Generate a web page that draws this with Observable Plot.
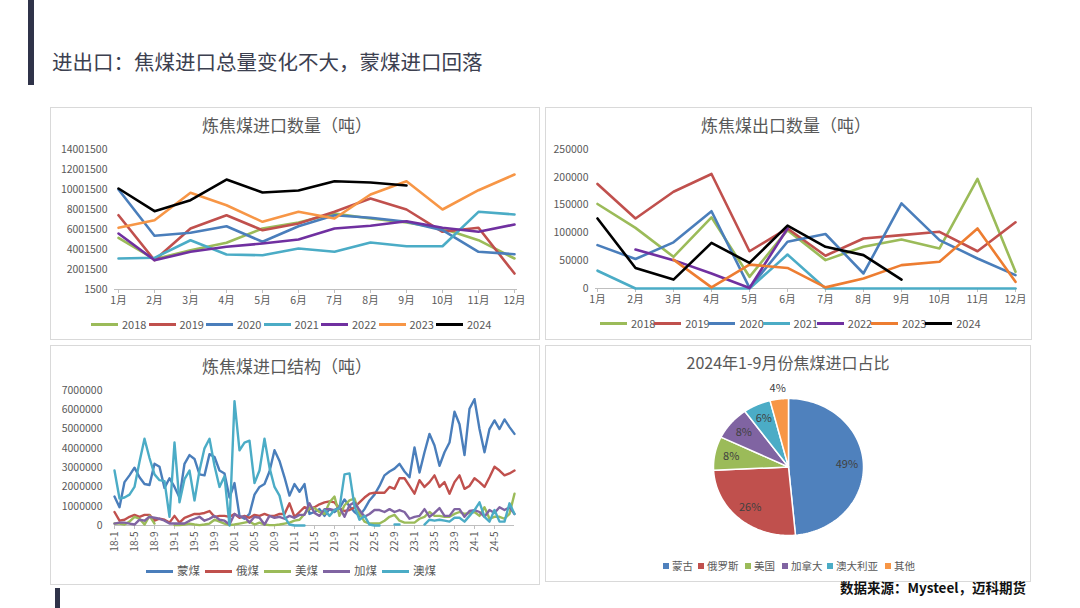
<!DOCTYPE html>
<html><head><meta charset="utf-8">
<script src="https://cdn.jsdelivr.net/npm/d3@7"></script>
<script src="https://cdn.jsdelivr.net/npm/@observablehq/plot@0.6"></script>
<style>
body{margin:0;background:#fff;}
#root{position:relative;width:1080px;height:608px;overflow:hidden;font-family:"Noto Sans CJK SC","Noto Sans",sans-serif;background:#fff;}
.panel{position:absolute;border:1px solid #d9d9d9;background:#fff;box-sizing:border-box;}
.ptitle{position:absolute;font-size:17px;color:#595959;white-space:nowrap;transform:translateX(-50%);line-height:1;}
.leg{position:absolute;display:flex;align-items:center;font-size:11px;color:#595959;white-space:nowrap;line-height:1;height:12px;}
svg{position:absolute;}
</style></head>
<body><div id="root"></div>
<script>
// ---------- data ----------
const months = ["1月","2月","3月","4月","5月","6月","7月","8月","9月","10月","11月","12月"];
const years = ["2018","2019","2020","2021","2022","2023","2024"];

// 炼焦煤进口数量（吨）
const imp2018 = [5170000,3030000,3930000,4670000,6100000,6700000,7600000,7100000,6700000,6100000,4930000,3100000];
const imp2019 = [7430000,2930000,6100000,7430000,5930000,6600000,7770000,9100000,8000000,5770000,6170000,1600000];
const imp2020 = [10000000,5370000,5670000,6330000,4770000,6330000,7430000,7170000,6770000,5930000,3770000,3530000];
const imp2021 = [3100000,3170000,4930000,3500000,3430000,4100000,3770000,4700000,4330000,4330000,7770000,7500000];
const imp2022 = [5600000,2930000,3770000,4270000,4600000,5000000,6100000,6370000,6830000,6170000,5770000,6500000];
const imp2023 = [6170000,6930000,9670000,8430000,6770000,7770000,7100000,9500000,10830000,8000000,9930000,11500000];
const imp2024 = [10100000,7830000,8930000,11000000,9700000,9900000,10830000,10700000,10400000];
const impTicks = [1500,2001500,4001500,6001500,8001500,10001500,12001500,14001500];

// 炼焦煤出口数量（吨）
const exp2018 = [152000,109000,57000,128000,21000,105000,51000,75000,88000,72000,197000,30000];
const exp2019 = [188000,126000,174000,206000,67000,108000,59000,90000,96000,102000,67000,119000];
const exp2020 = [78000,53000,83000,139000,1000,84000,98000,27000,153000,87000,54000,24000];
const exp2021 = [32000,0,0,0,0,61000,0,0,0,0,0,0];
const exp2022 = [null,70000,51000,27000,1000,108000,null,null,null,null,null,null];
const exp2023 = [null,null,52000,2000,43000,37000,2000,18000,42000,48000,108000,12000];
const exp2024 = [126000,37000,16000,82000,46000,113000,75000,60000,16000];
const expTicks = [0,50000,100000,150000,200000,250000];

// 炼焦煤进口结构（吨）, 2018-1 .. 2024-9
const structYears = ["18","19","20","21","22","23","24"];
const structMonths = structYears.flatMap(y => ["1","2","3","4","5","6","7","8","9","10","11","12"].map(m => y + "-" + m)).slice(0, 81);
const structTickLabels = ["18-1","18-5","18-9","19-1","19-5","19-9","20-1","20-5","20-9","21-1","21-5","21-9","22-1","22-5","22-9","23-1","23-5","23-9","24-1","24-5"];
const structNames = ["蒙煤","俄煤","美煤","加煤","澳煤"];
const mongolia = [
 1.5e6,0.95e6,2.25e6,2.6e6,3.0e6,2.5e6,2.15e6,2.1e6,3.2e6,3.05e6,1.95e6,2.45e6,
 2.0e6,1.45e6,3.2e6,3.65e6,3.45e6,2.65e6,2.6e6,3.7e6,3.55e6,2.85e6,2.7e6,1.45e6,
 2.2e6,0.5e6,0.35e6,0.6e6,1.6e6,2.0e6,2.15e6,2.8e6,3.9e6,3.35e6,2.5e6,1.55e6,
 2.15e6,1.75e6,2.15e6,0.6e6,0.7e6,0.85e6,0.5e6,0.85e6,0.7e6,0.9e6,1.35e6,1.0e6,
 0.7e6,0.5e6,0.85e6,1.3e6,1.6e6,2.05e6,2.6e6,2.8e6,2.95e6,3.2e6,2.8e6,2.5e6,
 4.05e6,2.75e6,3.8e6,4.75e6,4.15e6,3.1e6,3.8e6,4.3e6,5.9e6,5.25e6,3.65e6,6.05e6,
 6.55e6,5.0e6,3.8e6,5.0e6,5.45e6,5.0e6,5.5e6,5.1e6,4.75e6];
const russia = [
 0.7e6,0.25e6,0.3e6,0.45e6,0.55e6,0.45e6,0.55e6,0.55e6,0.25e6,0.35e6,0.3e6,0.15e6,
 0.5e6,0.15e6,0.4e6,0.5e6,0.6e6,0.6e6,0.65e6,0.75e6,0.45e6,0.5e6,0.5e6,0.45e6,
 0.6e6,0.4e6,0.5e6,0.4e6,0.55e6,0.5e6,0.6e6,0.5e6,0.5e6,0.6e6,0.6e6,1.15e6,
 0.45e6,0.7e6,0.95e6,0.85e6,0.95e6,1.1e6,1.2e6,1.25e6,1.2e6,0.9e6,0.75e6,0.8e6,
 0.95e6,1.2e6,1.45e6,1.65e6,1.7e6,1.7e6,1.7e6,2.0e6,1.9e6,2.45e6,2.45e6,2.05e6,
 1.65e6,2.35e6,2.0e6,2.25e6,2.6e6,2.0e6,2.25e6,1.65e6,2.25e6,2.6e6,1.9e6,2.05e6,
 2.45e6,2.25e6,2.0e6,2.5e6,3.05e6,2.85e6,2.6e6,2.7e6,2.85e6];
const usa = [
 0.1e6,0.1e6,0.05e6,0.2e6,0.45e6,0.35e6,0.05e6,0.5e6,0.1e6,null,null,null,
 0.02e6,0.02e6,0.05e6,0.1e6,0.05e6,0.02e6,0.05e6,0.1e6,0.3e6,0.2e6,0.1e6,0.02e6,
 0.05e6,0.1e6,0.15e6,0.2e6,0.05e6,0.15e6,0.05e6,0.02e6,0.02e6,0.05e6,0.1e6,0.15e6,
 0.25e6,0.3e6,0.6e6,0.9e6,0.9e6,0.7e6,0.6e6,1.2e6,1.5e6,0.5e6,1.05e6,1.3e6,
 1.4e6,0.6e6,0.2e6,0.1e6,0.1e6,0.1e6,0.25e6,0.45e6,0.55e6,0.25e6,0.15e6,0.15e6,
 0.15e6,0.35e6,0.45e6,0.7e6,0.5e6,0.5e6,0.45e6,0.45e6,0.6e6,0.7e6,0.6e6,0.65e6,
 0.7e6,0.5e6,0.95e6,0.35e6,0.45e6,0.45e6,0.35e6,0.6e6,1.65e6];
const canada = [
 0.1e6,0.15e6,0.15e6,0.1e6,0.05e6,0.3e6,0.25e6,0.45e6,0.4e6,0.35e6,0.25e6,0.1e6,
 0.1e6,0.1e6,0.1e6,0.25e6,0.35e6,0.45e6,0.25e6,0.35e6,0.5e6,0.3e6,0.25e6,0.05e6,
 0.6e6,0.45e6,0.45e6,0.15e6,0.45e6,0.4e6,0.05e6,0.5e6,0.4e6,0.45e6,0.35e6,0.5e6,
 0.4e6,0.55e6,0.55e6,1.15e6,0.65e6,0.5e6,0.85e6,0.85e6,0.8e6,0.95e6,0.45e6,1.05e6,
 1.2e6,0.8e6,0.45e6,0.6e6,0.8e6,0.8e6,0.7e6,0.85e6,0.7e6,0.8e6,0.7e6,0.35e6,
 0.45e6,0.5e6,0.85e6,0.45e6,0.65e6,0.9e6,0.5e6,0.5e6,0.85e6,0.85e6,0.45e6,0.75e6,
 0.8e6,0.7e6,0.45e6,0.8e6,0.65e6,0.95e6,0.8e6,0.95e6,0.6e6];
const australia = [
 2.85e6,1.4e6,1.45e6,1.6e6,2.0e6,3.3e6,4.5e6,3.5e6,2.65e6,2.35e6,2.3e6,0.45e6,
 4.3e6,1.2e6,2.4e6,2.85e6,1.3e6,2.85e6,4.0e6,4.5e6,3.1e6,2.0e6,2.55e6,0,
 6.45e6,3.9e6,4.3e6,4.4e6,2.2e6,2.85e6,4.5e6,3.0e6,2.0e6,1.55e6,0.45e6,0.05e6,
 0,0,0,null,null,null,0.8e6,0.5e6,0.8e6,0.9e6,2.65e6,2.7e6,
 1.0e6,0.3e6,0.5e6,0.05e6,0,0,null,null,0.05e6,0.05e6,null,null,
 null,null,0.05e6,0.3e6,0.25e6,0.3e6,0.25e6,0.2e6,0.4e6,0.4e6,0.2e6,0.5e6,
 0.8e6,1.2e6,0.45e6,0.2e6,0.8e6,0.2e6,0.2e6,1.15e6,0.6e6];
const structTicks = [0,1000000,2000000,3000000,4000000,5000000,6000000,7000000];

// 2024年1-9月份焦煤进口占比 (%)
const pieNames = ["蒙古","俄罗斯","美国","加拿大","澳大利亚","其他"];
const pieValues = [49,26,8,8,6,4];

// ---------- style ----------
const FONT = '"Noto Sans CJK SC","Noto Sans",sans-serif';
const yearColors1 = ["#9BBB59","#C0504D","#4A7EBB","#4BACC6","#7030A0","#F79646","#000000"];
const yearColors2 = ["#9BBB59","#C0504D","#4A7EBB","#4BACC6","#7030A0","#ED7D31","#000000"];
const structColors = ["#4A7EBB","#C0504D","#9BBB59","#8064A2","#4BACC6"];
const pieColors = ["#4F81BD","#C0504D","#9BBB59","#8064A2","#4BACC6","#F79646"];

const root = document.getElementById("root");
function addDiv(cls, html, css){ const d=document.createElement("div"); if(cls) d.className=cls; d.innerHTML=html; Object.assign(d.style,css); if(!d.style.position) d.style.position="absolute"; root.appendChild(d); return d; }
function place(svg, left, top){ svg.style.left=left+"px"; svg.style.top=top+"px"; root.appendChild(svg); }
function lineLegend(names, colors, left, top, spacing, fs){
  names.forEach((n,k)=>addDiv("leg", `<span style="display:inline-block;width:27px;height:3px;background:${colors[k]};margin-right:4px"></span>${n}`, {left:(left+k*spacing)+"px", top:(top-6)+"px", fontSize:fs+"px"}));
}
const plotStyle = {fontFamily: FONT, fontSize: "10.5px", color: "#595959", background: "transparent", overflow: "visible"};

// ---------- page chrome ----------
addDiv("", "", {left:"28px", top:"0px", width:"6px", height:"85px", background:"#2f3349"});
addDiv("", "", {left:"55px", top:"588px", width:"5px", height:"20px", background:"#2f3349"});
addDiv("", "进出口：焦煤进口总量变化不大，蒙煤进口回落", {left:"52px", top:"51px", fontSize:"20.5px", color:"#3c4050", whiteSpace:"nowrap", lineHeight:"1"});
addDiv("panel", "", {left:"50px", top:"107px", width:"490px", height:"233px"});
addDiv("panel", "", {left:"545px", top:"107px", width:"487px", height:"233px"});
addDiv("panel", "", {left:"50px", top:"345px", width:"490px", height:"240px"});
addDiv("panel", "", {left:"545px", top:"345px", width:"486px", height:"237px"});
addDiv("ptitle", "炼焦煤进口数量（吨）", {left:"287px", top:"116px"});
addDiv("ptitle", "炼焦煤出口数量（吨）", {left:"786px", top:"116px"});
addDiv("ptitle", "炼焦煤进口结构（吨）", {left:"287px", top:"357px"});
addDiv("ptitle", "2024年1-9月份焦煤进口占比", {left:"788px", top:"354px", fontSize:"16px"});
addDiv("", "数据来源：Mysteel，迈科期货", {left:"840px", top:"581px", fontSize:"13.5px", fontWeight:"700", color:"#111", whiteSpace:"nowrap", lineHeight:"1"});

// ---------- chart 1: imports ----------
const impSeries = [imp2018,imp2019,imp2020,imp2021,imp2022,imp2023,imp2024];
const impData = years.flatMap((y,k)=>impSeries[k].map((v,i)=>({month:months[i], value:v, year:y})));
place(Plot.plot({
  width:490, height:175, marginLeft:64, marginRight:23, marginTop:9, marginBottom:26,
  style: plotStyle,
  x:{type:"point", domain:months, padding:0, label:null},
  y:{domain:[1500,14001500], label:null},
  color:{domain:years, range:yearColors1},
  marks:[
    Plot.axisY({ticks:impTicks, tickSize:0, tickPadding:7, tickFormat:d=>String(d), label:null, fill:"#595959"}),
    Plot.ruleY([1500], {stroke:"#bfbfbf"}),
    Plot.axisX({tickSize:4, tickPadding:3, stroke:"#bfbfbf", fill:"#595959", label:null}),
    Plot.line(impData, {x:"month", y:"value", z:"year", stroke:"year", strokeWidth:2.6, strokeLinejoin:"round", strokeLinecap:"round"})
  ]
}), 50, 140);
lineLegend(years, yearColors1, 91, 324, 57.5, 11);

// ---------- chart 2: exports ----------
const expSeries = [exp2018,exp2019,exp2020,exp2021,exp2022,exp2023,exp2024];
const expData = years.flatMap((y,k)=>expSeries[k].map((v,i)=>({month:months[i], value:v, year:y})));
place(Plot.plot({
  width:487, height:175, marginLeft:50, marginRight:15, marginTop:9, marginBottom:27,
  style: plotStyle,
  x:{type:"point", domain:months, padding:0, label:null},
  y:{domain:[0,250000], label:null},
  color:{domain:years, range:yearColors2},
  marks:[
    Plot.axisY({ticks:expTicks, tickSize:0, tickPadding:7, tickFormat:d=>String(d), label:null, fill:"#595959"}),
    Plot.ruleY([0], {stroke:"#bfbfbf"}),
    Plot.axisX({tickSize:4, tickPadding:3, stroke:"#bfbfbf", fill:"#595959", label:null}),
    Plot.line(expData, {x:"month", y:"value", z:"year", stroke:"year", strokeWidth:2.6, strokeLinejoin:"round", strokeLinecap:"round"})
  ]
}), 545, 140);
lineLegend(years, yearColors2, 600, 323, 54.2, 11);

// ---------- chart 3: import structure ----------
const structSeries = [mongolia, russia, usa, canada, australia];
const structData = structNames.flatMap((n,k)=>structSeries[k].map((v,i)=>({month:structMonths[i], value:v, name:n})));
place(Plot.plot({
  width:490, height:180, marginLeft:64, marginRight:26, marginTop:10, marginBottom:35,
  style: plotStyle,
  x:{type:"point", domain:structMonths, padding:0, label:null},
  y:{domain:[0,7000000], label:null},
  color:{domain:structNames, range:structColors},
  marks:[
    Plot.axisY({ticks:structTicks, tickSize:0, tickPadding:12, tickFormat:d=>String(d), label:null, fill:"#595959"}),
    Plot.ruleY([0], {stroke:"#bfbfbf"}),
    Plot.axisX({ticks:structTickLabels, tickSize:4, tickPadding:2, tickRotate:-90, stroke:"#bfbfbf", fill:"#595959", fontSize:10, label:null}),
    Plot.line(structData, {x:"month", y:"value", z:"name", stroke:"name", strokeWidth:2.4, strokeLinejoin:"round", strokeLinecap:"round"})
  ]
}), 50, 380);
lineLegend(structNames, structColors, 146, 571, 59, 11.5);

// ---------- chart 4: pie ----------
const pieArcs = d3.pie().sort(null).value(d=>d)(pieValues);
const pieTotal = d3.sum(pieValues);
const slicePts = pieArcs.flatMap((a,k)=>{
  const pts=[{x:0,y:0,name:pieNames[k]}]; const n=90;
  for(let j=0;j<=n;j++){ const t=a.startAngle+(a.endAngle-a.startAngle)*j/n; pts.push({x:Math.sin(t), y:Math.cos(t), name:pieNames[k]}); }
  return pts;
});
const midA = a => (a.startAngle+a.endAngle)/2;
const labR = a => (a.endAngle-a.startAngle) < 0.3 ? 1.16 : 0.78;
place(Plot.plot({
  width:180, height:175,
  style: plotStyle,
  x:{domain:[-1,1], range:[13,163], axis:null},
  y:{domain:[-1,1], range:[160,23], axis:null},
  color:{domain:pieNames, range:pieColors},
  marks:[
    Plot.line(slicePts, {x:"x", y:"y", z:"name", fill:"name", stroke:"white", strokeWidth:1.5, curve:"linear-closed"}),
    Plot.text(pieArcs, {x:a=>labR(a)*Math.sin(midA(a)), y:a=>labR(a)*Math.cos(midA(a)), text:a=>Math.round(a.value/pieTotal*100)+"%", fill:"#404040", fontSize:11})
  ]
}), 700, 375);
const pieLegX = [663,698,745,782,827,885];
pieNames.forEach((n,k)=>addDiv("leg", `<span style="display:inline-block;width:6px;height:6px;background:${pieColors[k]};margin-right:3px"></span>${n}`, {left:pieLegX[k]+"px", top:"560px", fontSize:"10.5px"}));
</script></body></html>
